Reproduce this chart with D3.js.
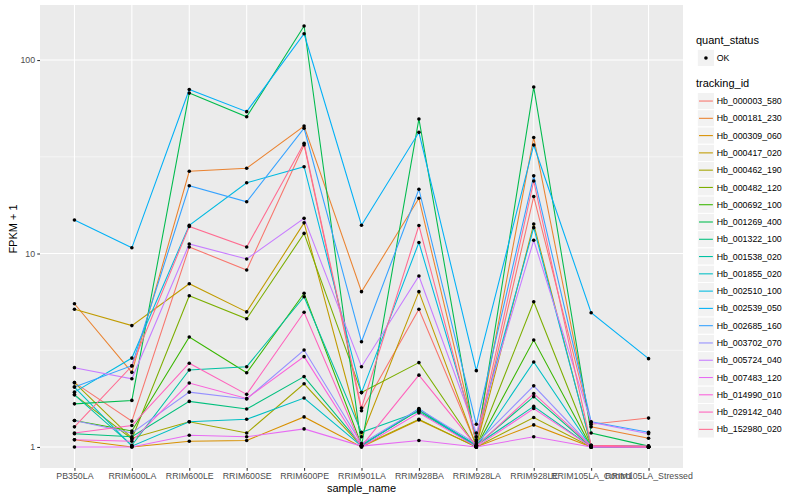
<!DOCTYPE html>
<html>
<head>
<meta charset="utf-8">
<script src="https://cdnjs.cloudflare.com/ajax/libs/d3/7.8.5/d3.min.js"></script>
<style>
body { margin: 0; background: #fff; }
text { font-family: "Liberation Sans", Arial, Helvetica, sans-serif; }
</style>
</head>
<body>
<div id="viz"></div>
<script>
let samples = ['PB350LA','RRIM600LA','RRIM600LE','RRIM600SE','RRIM600PE','RRIM901LA',
               'RRIM928BA','RRIM928LA','RRIM928LE','RRIM105LA_Control','RRIM105LA_Stressed'];

let tracking_ids = ['Hb_000003_580','Hb_000181_230','Hb_000309_060','Hb_000417_020','Hb_000462_190',
                    'Hb_000482_120','Hb_000692_100','Hb_001269_400','Hb_001322_100','Hb_001538_020',
                    'Hb_001855_020','Hb_002510_100','Hb_002539_050','Hb_002685_160','Hb_003702_070',
                    'Hb_005724_040','Hb_007483_120','Hb_014990_010','Hb_029142_040','Hb_152980_020'];

let colors = ['#F8766D','#EA8331','#D89000','#C09B00','#A3A500','#7CAE00','#39B600','#00BB4E','#00BF7D','#00C1A3',
              '#00BFC4','#00BAE0','#00B0F6','#35A2FF','#9590FF','#C77CFF','#E76BF3','#FA62DB','#FF62BC','#FF6C91'];

// FPKM + 1, one value per sample
let hb_000003_580 = [2.15, 1.36, 10.8, 8.22, 36.4, 1.54, 5.15, 1.02, 19.7, 1.31, 1.41];
let hb_000181_230 = [5.50, 2.43, 26.6, 27.6, 45.6, 6.35, 19.3, 1.09, 39.8, 1.27, 1.11];
let hb_000309_060 = [1.09, 1.00, 1.07, 1.08, 1.43, 1.00, 1.38, 1.00, 1.30, 1.00, 1.00];
let hb_000417_020 = [5.15, 4.24, 6.98, 4.99, 14.4, 1.13, 6.35, 1.01, 14.2, 1.01, 1.00];
let hb_000462_190 = [2.15, 1.11, 1.35, 1.18, 2.12, 1.01, 1.39, 1.00, 1.42, 1.00, 1.00];
let hb_000482_120 = [1.86, 1.10, 6.05, 4.60, 12.7, 1.91, 2.73, 1.00, 5.63, 1.01, 1.00];
let hb_000692_100 = [1.37, 1.21, 3.70, 2.42, 6.23, 1.02, 1.55, 1.00, 3.57, 1.00, 1.00];
let hb_001269_400 = [1.67, 1.74, 67.5, 50.9, 149.9, 1.01, 49.6, 1.01, 72.5, 1.18, 1.01];
let hb_001322_100 = [1.17, 1.13, 1.72, 1.57, 2.31, 1.02, 1.55, 1.02, 1.82, 1.00, 1.00];
let hb_001538_020 = [1.86, 1.02, 2.50, 2.60, 5.98, 1.19, 1.52, 1.02, 1.62, 1.00, 1.00];
let hb_001855_020 = [2.04, 1.01, 1.35, 1.39, 1.79, 1.01, 1.58, 1.00, 2.75, 1.00, 1.00];
let hb_002510_100 = [1.92, 2.88, 14.0, 23.2, 28.1, 1.91, 11.4, 1.13, 13.6, 1.02, 1.01];
let hb_002539_050 = [14.9, 10.7, 70.4, 54.1, 136.7, 14.0, 42.3, 2.48, 36.4, 4.94, 2.86];
let hb_002685_160 = [2.04, 2.63, 22.4, 18.5, 44.4, 3.50, 21.5, 1.31, 25.2, 1.35, 1.19];
let hb_003702_070 = [1.37, 1.18, 1.92, 1.77, 3.17, 1.04, 1.57, 1.04, 2.07, 1.01, 1.00];
let hb_005724_040 = [2.57, 2.25, 11.2, 9.37, 15.2, 2.60, 7.65, 1.18, 11.7, 1.34, 1.17];
let hb_007483_120 = [1.00, 1.00, 1.15, 1.13, 1.24, 1.01, 1.08, 1.00, 1.13, 1.00, 1.00];
let hb_014990_010 = [1.09, 1.07, 2.14, 1.78, 2.93, 1.00, 1.50, 1.00, 1.58, 1.00, 1.00];
let hb_029142_040 = [1.18, 1.29, 2.71, 1.87, 4.97, 1.01, 2.35, 1.01, 1.89, 1.01, 1.00];
let hb_152980_020 = [1.27, 2.62, 13.8, 10.8, 37.1, 1.59, 13.95, 1.065, 23.7, 1.02, 1.01];

let fpkm = [hb_000003_580, hb_000181_230, hb_000309_060, hb_000417_020, hb_000462_190,
            hb_000482_120, hb_000692_100, hb_001269_400, hb_001322_100, hb_001538_020,
            hb_001855_020, hb_002510_100, hb_002539_050, hb_002685_160, hb_003702_070,
            hb_005724_040, hb_007483_120, hb_014990_010, hb_029142_040, hb_152980_020];

let yTicks = [1, 10, 100];
let yMinor = [3.162, 31.62];

let series = tracking_ids.map(function(id, i) {
  return { id: id, color: colors[i], values: samples.map(function(s, j) {
    return { sample: s, value: fpkm[i][j] };
  }) };
});
let allPoints = [];
series.forEach(function(s) { s.values.forEach(function(v) { allPoints.push(v); }); });

let pLeft = 40, pRight = 683, pTop = 5, pBottom = 468;

let svg = d3.select('#viz').append('svg')
  .attr('width', 800)
  .attr('height', 500);

svg.append('rect').attr('width', 800).attr('height', 500).attr('fill', '#fff');

let x = d3.scalePoint().domain(samples).range([pLeft, pRight]).padding(0.6);

let lmin = Math.log10(d3.min(allPoints, function(d) { return d.value; }));
let lmax = Math.log10(d3.max(allPoints, function(d) { return d.value; }));
let pad = (lmax - lmin) * 0.05;
let y = d3.scaleLog().domain([Math.pow(10, lmin - pad), Math.pow(10, lmax + pad)]).range([pBottom, pTop]);

// panel
svg.append('rect')
  .attr('x', pLeft).attr('y', pTop)
  .attr('width', pRight - pLeft).attr('height', pBottom - pTop)
  .attr('fill', '#EBEBEB');

svg.selectAll('.minor')
  .data(yMinor)
.enter().append('line')
  .attr('x1', pLeft).attr('x2', pRight)
  .attr('y1', function(d) { return y(d); })
  .attr('y2', function(d) { return y(d); })
  .attr('stroke', '#fff').attr('stroke-width', 0.53);

svg.selectAll('.hmajor')
  .data(yTicks)
.enter().append('line')
  .attr('x1', pLeft).attr('x2', pRight)
  .attr('y1', function(d) { return y(d); })
  .attr('y2', function(d) { return y(d); })
  .attr('stroke', '#fff').attr('stroke-width', 1.07);

svg.selectAll('.vmajor')
  .data(samples)
.enter().append('line')
  .attr('y1', pTop).attr('y2', pBottom)
  .attr('x1', function(d) { return x(d); })
  .attr('x2', function(d) { return x(d); })
  .attr('stroke', '#fff').attr('stroke-width', 1.07);

let line = d3.line()
  .x(function(d) { return x(d.sample); })
  .y(function(d) { return y(d.value); });

svg.selectAll('.series')
  .data(series)
.enter().append('path')
  .attr('d', function(d) { return line(d.values); })
  .attr('fill', 'none')
  .attr('stroke', function(d) { return d.color; })
  .attr('stroke-width', 1.07);

svg.selectAll('.pt')
  .data(allPoints)
.enter().append('circle')
  .attr('cx', function(d) { return x(d.sample); })
  .attr('cy', function(d) { return y(d.value); })
  .attr('r', 1.8)
  .attr('fill', '#000');

// axes
let xAxis = svg.append('g')
  .attr('transform', 'translate(0,' + pBottom + ')')
  .call(d3.axisBottom(x).tickSize(2.75).tickPadding(2.2));
let yAxis = svg.append('g')
  .attr('transform', 'translate(' + pLeft + ',0)')
  .call(d3.axisLeft(y).tickValues(yTicks).tickFormat(d3.format('d')).tickSize(2.75).tickPadding(2.2));

[xAxis, yAxis].forEach(function(g) {
  g.select('.domain').remove();
  g.selectAll('line').attr('stroke', '#333333').attr('stroke-width', 1.07);
  g.selectAll('text').attr('fill', '#4D4D4D').style('font-size', '8.8px');
});

svg.append('text')
  .attr('x', (pLeft + pRight) / 2).attr('y', 492)
  .attr('text-anchor', 'middle')
  .style('font-size', '11px')
  .text('sample_name');

svg.append('text')
  .attr('transform', 'translate(16.5,229) rotate(-90)')
  .attr('text-anchor', 'middle')
  .style('font-size', '11px')
  .text('FPKM + 1');

// legend
let lx = 697.3, ks = 17.28;
svg.append('text').attr('x', 696).attr('y', 43.5).style('font-size', '11px').text('quant_status');
svg.append('rect').attr('x', lx).attr('y', 49.3).attr('width', ks).attr('height', ks)
  .attr('fill', '#F2F2F2').attr('stroke', '#fff');
svg.append('circle').attr('cx', lx + ks / 2).attr('cy', 49.3 + ks / 2).attr('r', 1.8).attr('fill', '#000');
svg.append('text').attr('x', 716.7).attr('y', 49.3 + ks / 2).attr('dy', '0.35em')
  .style('font-size', '8.8px').text('OK');

svg.append('text').attr('x', 696).attr('y', 87).style('font-size', '11px').text('tracking_id');

let keys = svg.selectAll('.key')
  .data(series)
.enter().append('g')
  .attr('transform', function(d, i) { return 'translate(' + lx + ',' + (92.4 + i * ks) + ')'; });

keys.append('rect')
  .attr('width', ks).attr('height', ks)
  .attr('fill', '#F2F2F2').attr('stroke', '#fff');
keys.append('line')
  .attr('x1', 1.7).attr('x2', ks - 1.7)
  .attr('y1', ks / 2).attr('y2', ks / 2)
  .attr('stroke', function(d) { return d.color; })
  .attr('stroke-width', 1.07);
keys.append('text')
  .attr('x', 716.7 - lx).attr('y', ks / 2).attr('dy', '0.35em')
  .style('font-size', '8.8px')
  .text(function(d) { return d.id; });
</script>
</body>
</html>
